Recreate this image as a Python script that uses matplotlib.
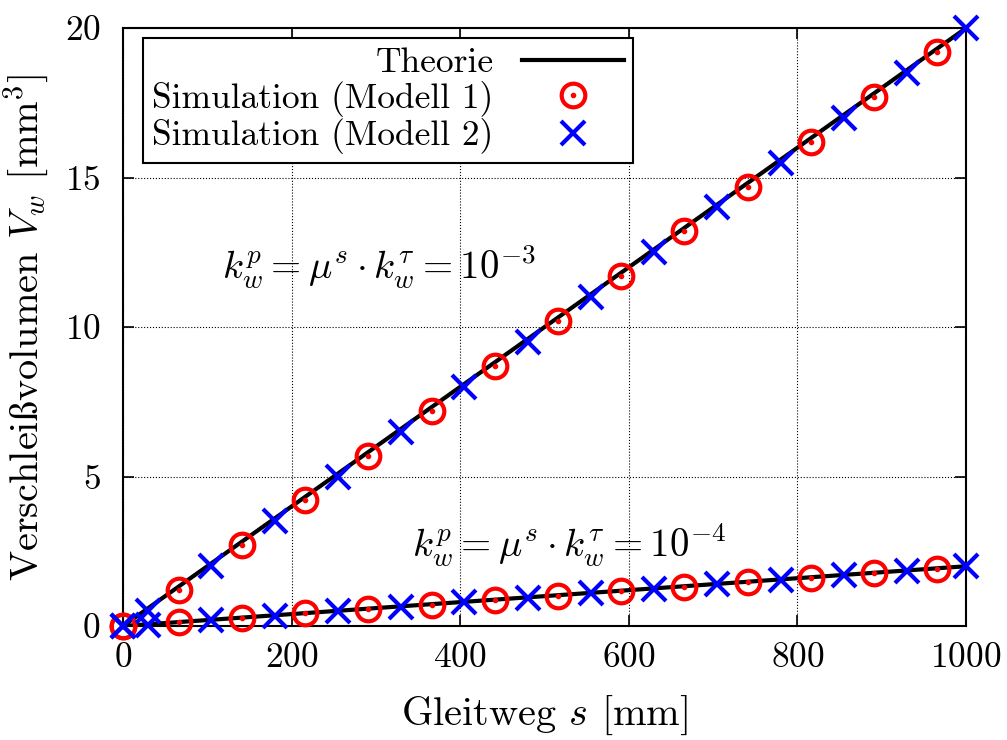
import matplotlib
matplotlib.use("Agg")
from matplotlib import pyplot as plt

plt.rcParams['mathtext.fontset'] = 'cm'
plt.rcParams['font.family'] = ['cmr10', 'DejaVu Serif']
plt.rcParams['axes.formatter.use_mathtext'] = True

# Theorie
theo_x = [0, 1000]
theo_hi = [0, 20]
theo_lo = [0, 2]

# Simulation (Modell 1) - Kreise
m1_x = [0, 66, 141, 216, 291, 366, 441, 516, 591, 666, 741, 816, 891, 966]
m1_hi = [0, 1.2, 2.7, 4.2, 5.7, 7.2, 8.7, 10.2, 11.7, 13.2, 14.7, 16.2, 17.7, 19.2]
m1_lo = [0, 0.12, 0.27, 0.42, 0.57, 0.72, 0.87, 1.02, 1.17, 1.32, 1.47, 1.62, 1.77, 1.92]

# Simulation (Modell 2) - Kreuze
m2_x = [0, 30, 105, 180, 255, 330, 405, 480, 555, 630, 705, 780, 855, 930, 1000]
m2_hi = [0, 0.5, 2.0, 3.5, 5.0, 6.5, 8.0, 9.5, 11.0, 12.5, 14.0, 15.5, 17.0, 18.5, 20.0]
m2_lo = [0, 0.05, 0.2, 0.35, 0.5, 0.65, 0.8, 0.95, 1.1, 1.25, 1.4, 1.55, 1.7, 1.85, 2.0]

xticks = [0, 200, 400, 600, 800, 1000]
yticks = [0, 5, 10, 15, 20]

fig = plt.figure(figsize=(10.07, 7.4), dpi=100)
ax = fig.add_axes([0.1221, 0.154, 0.8372, 0.808])

fs = 25.5
ring = dict(marker='o', ms=17, mfc='none', mec='red', mew=3, ls='none', clip_on=False, zorder=4)
dot = dict(marker='o', ms=3, mfc='red', mec='red', ls='none', clip_on=False, zorder=4)
cross = dict(marker='x', ms=17, mec='blue', mew=3, ls='none', clip_on=False, zorder=5)

lt, = ax.plot(theo_x, theo_hi, color='black', lw=3, zorder=3)
ax.plot(theo_x, theo_lo, color='black', lw=3, zorder=3)

r1, = ax.plot(m1_x, m1_hi, **ring)
d1, = ax.plot(m1_x, m1_hi, **dot)
ax.plot(m1_x, m1_lo, **ring)
ax.plot(m1_x, m1_lo, **dot)

c2, = ax.plot(m2_x, m2_hi, **cross)
ax.plot(m2_x, m2_lo, **cross)

ax.set_xlim(0, 1000)
ax.set_ylim(0, 20)
ax.set_xticks(xticks)
ax.set_yticks(yticks)
ax.tick_params(direction='in', length=8, width=1.2, top=True, right=True, labelsize=fs)
ax.tick_params(axis='x', pad=12)
ax.tick_params(axis='y', pad=16)
ax.grid(True, color='black', ls=':', lw=0.8)
ax.set_axisbelow(True)
for s in ax.spines.values():
    s.set_linewidth(1.5)

ax.set_xlabel(r"Gleitweg $s$ [mm]", fontsize=29, labelpad=14)
ax.set_ylabel(r"Verschlei$\mathrm{ß}$volumen $V_w$ [mm$^3$]", fontsize=29, labelpad=10)

ax.text(117, 12.0, r"$k_w^p = \mu^s \cdot k_w^\tau = 10^{-3}$", fontsize=28, va='center', ha='left')
ax.text(343, 2.7, r"$k_w^p = \mu^s \cdot k_w^\tau = 10^{-4}$", fontsize=28, va='center', ha='left')

leg = ax.legend([lt, (r1, d1), c2],
                ["Theorie", "Simulation (Modell 1)", "Simulation (Modell 2)"],
                loc='upper left', bbox_to_anchor=(0.024, 0.983), fontsize=fs,
                markerfirst=False, alignment='right', handlelength=2.9,
                fancybox=False, framealpha=1, edgecolor='black',
                borderpad=0.25, labelspacing=0.05, handletextpad=0.8, borderaxespad=0)
leg.get_frame().set_linewidth(1.5)
for t in leg.get_texts():
    t.set_ha('right')

fig.savefig("out.png", dpi=100)
